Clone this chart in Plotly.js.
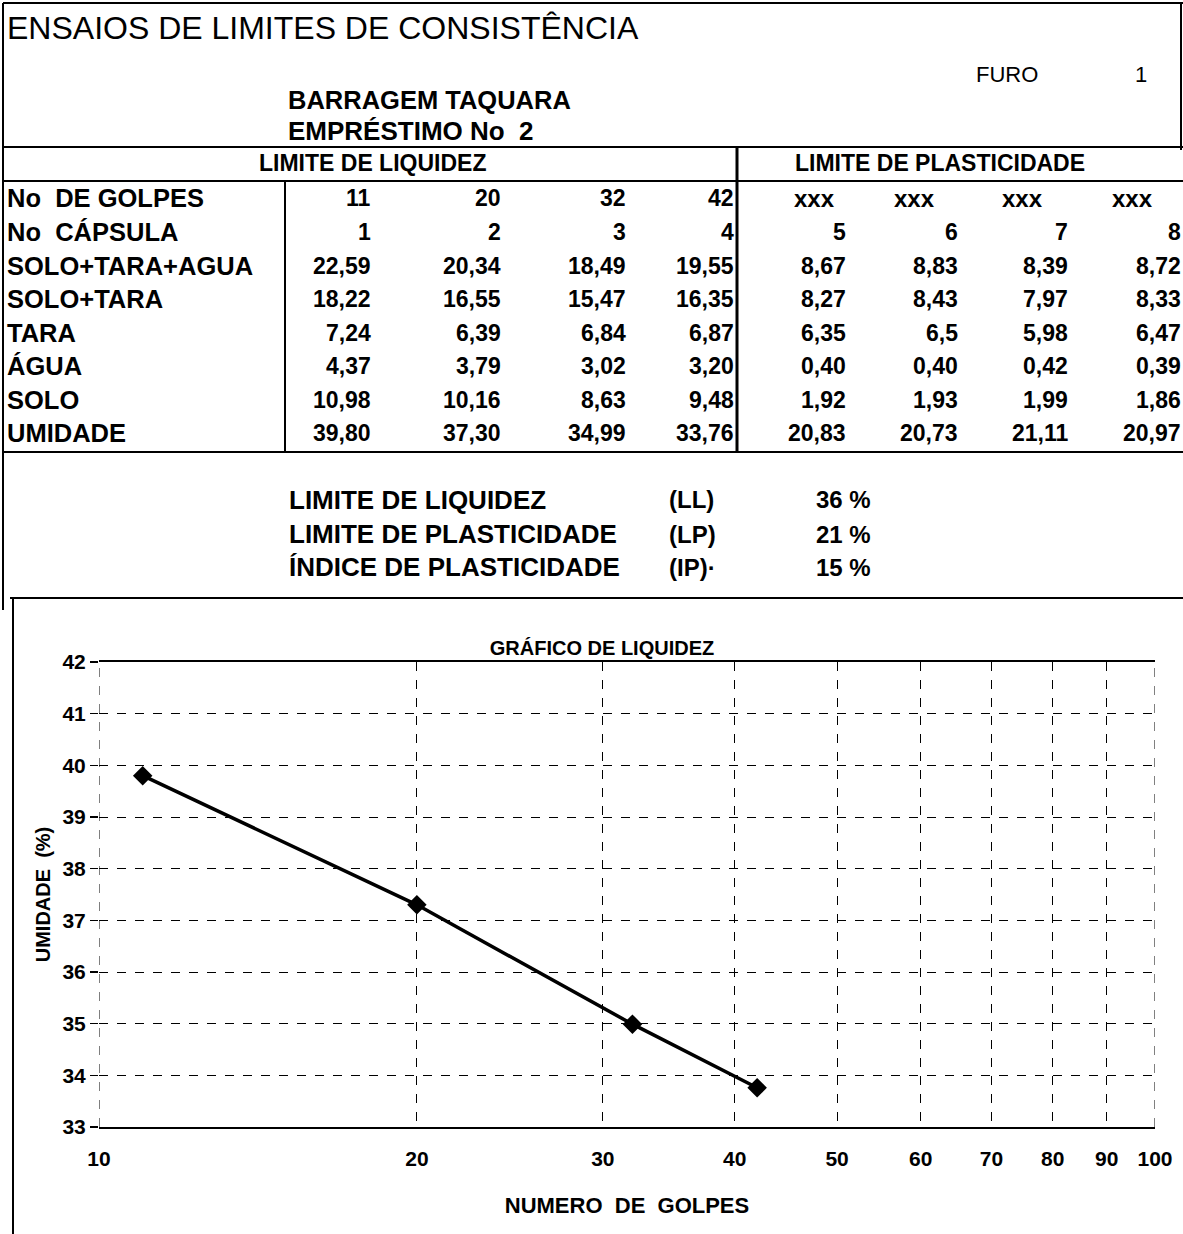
<!DOCTYPE html>
<html>
<head>
<meta charset="utf-8">
<script src="https://cdn.plot.ly/plotly-3.0.1.min.js"></script>
<style>html,body{margin:0;padding:0;background:#fff;}#chart{width:1183px;height:1234px;}</style>
</head>
<body>
<div id="chart"></div>
<script>
// ---------- DATA ----------
const pageTitle = "ENSAIOS DE LIMITES DE CONSISTÊNCIA";
const furoLabel = "FURO";
const furoNumber = "1";
const obra = "BARRAGEM TAQUARA";
const emprestimo = "EMPRÉSTIMO No  2";
const headerLL = "LIMITE DE LIQUIDEZ";
const headerLP = "LIMITE DE PLASTICIDADE";

const rowLabels = ["No  DE GOLPES", "No  CÁPSULA", "SOLO+TARA+AGUA", "SOLO+TARA", "TARA", "ÁGUA", "SOLO", "UMIDADE"];

const golpesLL = [11, 20, 32, 42];
const golpesLP = ["xxx", "xxx", "xxx", "xxx"];
const capsulaLL = [1, 2, 3, 4];
const capsulaLP = [5, 6, 7, 8];
const soloTaraAguaLL = [22.59, 20.34, 18.49, 19.55];
const soloTaraAguaLP = [8.67, 8.83, 8.39, 8.72];
const soloTaraLL = [18.22, 16.55, 15.47, 16.35];
const soloTaraLP = [8.27, 8.43, 7.97, 8.33];
const taraLL = [7.24, 6.39, 6.84, 6.87];
const taraLP = [6.35, 6.5, 5.98, 6.47];
const aguaLL = [4.37, 3.79, 3.02, 3.20];
const aguaLP = [0.40, 0.40, 0.42, 0.39];
const soloLL = [10.98, 10.16, 8.63, 9.48];
const soloLP = [1.92, 1.93, 1.99, 1.86];
const umidadeLL = [39.80, 37.30, 34.99, 33.76];
const umidadeLP = [20.83, 20.73, 21.11, 20.97];

const summaryLabels = ["LIMITE DE LIQUIDEZ", "LIMITE DE PLASTICIDADE", "ÍNDICE DE PLASTICIDADE"];
const summaryCodes = ["(LL)", "(LP)", "(IP)·"];
const summaryValues = [36, 21, 15];

const chartTitle = "GRÁFICO DE LIQUIDEZ";
const xTitle = "NUMERO &nbsp;DE &nbsp;GOLPES";
const yTitle = "UMIDADE &nbsp;(%)";
const xTickVals = [10, 20, 30, 40, 50, 60, 70, 80, 90, 100];
const yTickVals = [33, 34, 35, 36, 37, 38, 39, 40, 41, 42];

// ---------- LAYOUT HELPERS ----------
const W = 1183, H = 1234;
const FONT = "Liberation Sans, Arial, Helvetica, sans-serif";
const px = x => x / W;
const py = y => 1 - y / H;
const annotations = [];
const shapes = [];
function txt(x, y, text, size, anchor, bold, extra) {
  annotations.push(Object.assign({
    xref: "paper", yref: "paper", x: px(x), y: py(y), text: bold ? "<b>" + text + "</b>" : text,
    showarrow: false, xanchor: anchor, yanchor: "middle", borderpad: 0,
    font: {family: FONT, size: size, color: "#000"}
  }, extra || {}));
}
function hline(x0, x1, y, w) {
  shapes.push({type: "line", xref: "paper", yref: "paper", x0: px(x0), x1: px(x1), y0: py(y), y1: py(y), line: {color: "#000", width: w || 2}});
}
function vline(x, y0, y1, w) {
  shapes.push({type: "line", xref: "paper", yref: "paper", x0: px(x), x1: px(x), y0: py(y0), y1: py(y1), line: {color: "#000", width: w || 2}});
}
function fmt(v, kind) {
  if (typeof v === "string") return v;
  if (kind === "int") return String(v);
  if (kind === "gen") return String(v).replace(".", ",");
  return v.toFixed(2).replace(".", ",");
}

// ---------- HEADER ----------
txt(6, 28, pageTitle, 32, "left", false);
txt(975, 74, furoLabel, 22, "left", false);
txt(1141, 74, furoNumber, 22, "center", false);
txt(287, 100, obra, 25.5, "left", true);
txt(287, 131, emprestimo, 26, "left", true);
txt(372, 163, headerLL, 23, "center", true);
txt(940, 163, headerLP, 23, "center", true);

// ---------- TABLE ----------
const rowsLL = [golpesLL, capsulaLL, soloTaraAguaLL, soloTaraLL, taraLL, aguaLL, soloLL, umidadeLL];
const rowsLP = [golpesLP, capsulaLP, soloTaraAguaLP, soloTaraLP, taraLP, aguaLP, soloLP, umidadeLP];
const rowFmt = ["int", "int", "f2", "f2", "gen", "f2", "f2", "f2"];
const rowY = [198, 232, 266, 299, 333, 366, 400, 433];
const colLL = [372, 502, 627, 735];
const colLP = [847, 959, 1069, 1182];
const xxxCenters = [814, 914, 1022, 1132];
rowLabels.forEach((lab, r) => {
  txt(6, rowY[r], lab, 25.5, "left", true);
  rowsLL[r].forEach((v, c) => txt(colLL[c], rowY[r], fmt(v, rowFmt[r]), 23, "right", true));
  rowsLP[r].forEach((v, c) => {
    if (typeof v === "string") txt(xxxCenters[c], rowY[r], v, 24, "center", true);
    else txt(colLP[c], rowY[r], fmt(v, rowFmt[r]), 23, "right", true);
  });
});

// ---------- SUMMARY ----------
const sumY = [500, 534, 567];
summaryLabels.forEach((lab, i) => {
  txt(288, sumY[i], lab, 26, "left", true);
  txt(668, sumY[i], summaryCodes[i], 24, "left", true);
  txt(815, sumY[i], summaryValues[i] + " %", 24, "left", true);
});

// ---------- FRAME LINES ----------
hline(3, 1183, 3, 2);
vline(3, 3, 610, 2);
vline(1181, 3, 150, 2);
hline(3, 1183, 147, 2);
hline(3, 1183, 181, 2);
hline(3, 1183, 452, 2);
vline(285, 181, 452, 2);
vline(737, 147, 452, 3);
hline(10, 1183, 598, 2);
vline(13, 598, 1234, 2);

// chart edge gridlines at x = 10 and x = 100 (range ends), drawn in data coordinates
[xTickVals[0], xTickVals[xTickVals.length - 1]].forEach(v => {
  shapes.push({type: "line", xref: "x", yref: "y domain", x0: v, x1: v, y0: 0, y1: 1,
    line: {color: "#000", width: 1, dash: "dash"}, layer: "below"});
});

// ---------- CHART ----------
const trace = {
  type: "scatter", mode: "lines+markers",
  x: golpesLL, y: umidadeLL,
  line: {color: "#000", width: 3.5},
  marker: {symbol: "diamond", size: 15, color: "#000"},
  cliponaxis: false, showlegend: false, hoverinfo: "x+y"
};

const tickFont = {family: FONT, size: 21, color: "#000", weight: "bold"};
const layout = {
  width: W, height: H,
  margin: {l: 0, r: 0, t: 0, b: 0, pad: 0},
  paper_bgcolor: "#fff", plot_bgcolor: "#fff",
  showlegend: false,
  font: {family: FONT, color: "#000"},
  title: {text: "<b>" + chartTitle + "</b>", x: px(602), y: py(648), xref: "paper", yref: "paper",
          xanchor: "center", yanchor: "middle", font: {family: FONT, size: 20, color: "#000"}},
  xaxis: {
    type: "log", range: [1, 2], domain: [px(99), px(1155)],
    tickvals: xTickVals, ticktext: xTickVals.map(String),
    tickfont: tickFont, ticklabelstandoff: 12,
    ticks: "", showgrid: true, gridcolor: "#000", gridwidth: 1, griddash: "dash",
    showline: true, linecolor: "#000", linewidth: 2, mirror: true,
    zeroline: false, automargin: false,
    title: {text: "<b>" + xTitle + "</b>", font: {family: FONT, size: 22, color: "#000"}, standoff: 28}
  },
  yaxis: {
    range: [33, 42], domain: [py(1127), py(662)],
    tickvals: yTickVals,
    tickfont: tickFont,
    ticks: "outside", ticklen: 8, tickwidth: 1.5, tickcolor: "#000",
    showgrid: true, gridcolor: "#000", gridwidth: 1, griddash: "dash",
    showline: false, zeroline: false, automargin: false,
    title: {text: "<b>" + yTitle + "</b>", font: {family: FONT, size: 20, color: "#000"}, standoff: 6}
  },
  annotations: annotations,
  shapes: shapes
};

Plotly.newPlot("chart", [trace], layout, {displayModeBar: false, staticPlot: true});
</script>
</body>
</html>
